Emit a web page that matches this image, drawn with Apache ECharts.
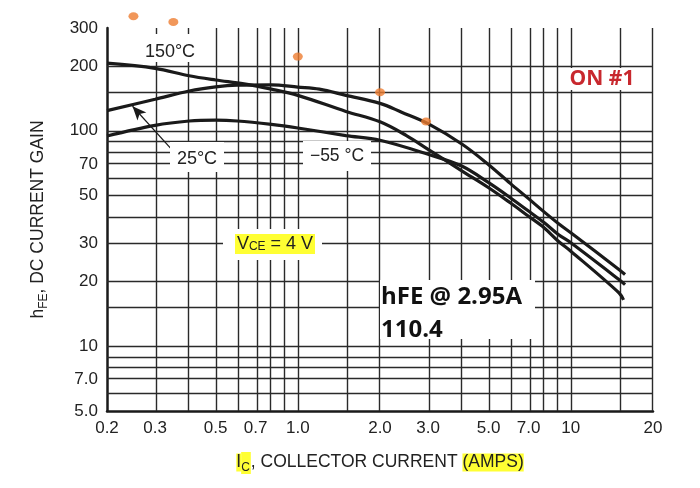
<!DOCTYPE html>
<html>
<head>
<meta charset="utf-8">
<script src="https://cdn.jsdelivr.net/npm/echarts@6/dist/echarts.min.js"></script>
<style>
  html, body { margin: 0; padding: 0; background: #fff; }
  #chart { width: 700px; height: 488px; }
</style>
</head>
<body>
<div id="chart"></div>
<script>
// axis ticks and grid (collector current in A, gain hFE)
const xTickVals = [0.2, 0.3, 0.5, 0.7, 1, 2, 3, 5, 7, 10, 20];
const xTickText = ['0.2', '0.3', '0.5', '0.7', '1.0', '2.0', '3.0', '5.0', '7.0', '10', '20'];
const yTickVals = [5, 7, 10, 20, 30, 50, 70, 100, 200, 300];
const yTickText = ['5.0', '7.0', '10', '20', '30', '50', '70', '100', '200', '300'];
const xGridVals = [0.3, 0.4, 0.5, 0.6, 0.7, 0.8, 0.9, 1, 1.5, 2, 3, 4, 5, 6, 7, 8, 9, 10, 15, 20];
const yGridVals = [6, 7, 8, 9, 10, 15, 20, 30, 40, 50, 60, 70, 80, 90, 100, 150, 200, 300];

// curves
const ic150 = [0.2, 0.3, 0.4, 0.5, 0.635, 0.8, 1.0, 1.5, 2.0, 2.5, 3.0, 4.0, 5.0, 6.0, 7.0, 8.0, 9.0, 10, 15, 15.6];
const hfe150 = [206, 195, 180, 172, 165, 156, 146, 123, 110, 95, 82, 65, 54.4, 46.3, 40.1, 35.4, 30.7, 27.6, 17.7, 16.4];
const ic25 = [0.2, 0.3, 0.4, 0.5, 0.6, 0.8, 1.0, 1.2, 1.5, 2.0, 2.4, 3.0, 4.0, 5.0, 6.0, 7.0, 8.0, 9.0, 10, 15, 15.8];
const hfe25 = [124, 140, 153, 160, 163, 163.5, 159.5, 156, 146, 134, 122, 108, 86.6, 69.6, 57, 48.4, 41.9, 37.1, 33.6, 22.7, 21.5];
const icM55 = [0.2, 0.3, 0.4, 0.5, 0.6, 0.8, 1.0, 1.5, 2.0, 3.0, 4.0, 5.0, 6.0, 7.0, 8.0, 9.0, 10, 15, 15.8];
const hfeM55 = [94.6, 106, 111, 112, 111, 107, 103, 95, 90.4, 77.8, 68.4, 57.4, 48.9, 42.4, 37.4, 33, 30.2, 20.4, 19.3];

// orange measured points
const dotIc = [0.25, 0.35, 1.0, 2.0, 2.95];
const dotHfe = [340, 320, 221, 151, 110.4];

// arrow from the 25°C label to its curve
const arrowFrom = [0.345, 82];
const arrowTo = [0.248, 130];

const SANS = "'Liberation Sans', Arial, sans-serif";
const BOLD = "'Open Sans', sans-serif";
const INK = '#1a1a1a';
const lg = Math.log10;

const pts = (xs, ys) => xs.map((x, i) => [lg(x), lg(ys[i])]);
const pickText = (vals, texts) => v => {
  const i = vals.findIndex(t => Math.abs(lg(t) - v) < 1e-6);
  return i >= 0 ? texts[i] : '';
};

const gridLines = xGridVals.map(v => ({ xAxis: lg(v) }))
  .concat(yGridVals.map(v => ({ yAxis: lg(v) })));

function curve(name, xs, ys, extra) {
  return Object.assign({
    name: name,
    type: 'line',
    data: pts(xs, ys),
    symbol: 'none',
    smooth: 0.35,
    lineStyle: { color: INK, width: 3.2 },
    z: 10,
    silent: true
  }, extra || {});
}

function box(x, y, w, h, fill) {
  return { type: 'rect', z: 50, shape: { x: x, y: y, width: w, height: h }, style: { fill: fill || '#fff' } };
}
function label(text, x, y, style) {
  return {
    type: 'text', x: x, y: y, z: 60,
    style: Object.assign({
      text: text, align: 'center', verticalAlign: 'middle',
      fontFamily: SANS, fontSize: 18, fill: '#222'
    }, style || {})
  };
}

const chart = echarts.init(document.getElementById('chart'));
chart.setOption({
  animation: false,
  backgroundColor: '#fff',
  grid: { left: 107, right: 47, top: 28, bottom: 77, outerBoundsMode: 'none' },
  xAxis: {
    type: 'value',
    min: lg(0.2),
    max: lg(20),
    splitLine: { show: false },
    axisTick: { show: false },
    axisLine: { show: true, onZero: false, lineStyle: { color: INK, width: 2.5 } },
    axisLabel: {
      customValues: xTickVals.map(lg),
      formatter: pickText(xTickVals, xTickText),
      fontFamily: SANS, fontSize: 17, color: '#222', margin: 9
    },
    name: '{i|I}{is|C}, COLLECTOR CURRENT {a|(AMPS)}',
    nameLocation: 'middle',
    nameGap: 40,
    nameTextStyle: {
      fontFamily: SANS, fontSize: 17.5, color: '#222', lineHeight: 23,
      rich: {
        i: { fontFamily: SANS, fontSize: 17.5, color: '#222', lineHeight: 23, backgroundColor: '#ffff33' },
        is: { fontFamily: SANS, fontSize: 12, color: '#222', lineHeight: 13, padding: [10, 1, 0, 0],
              verticalAlign: 'bottom', backgroundColor: '#ffff33' },
        a: { fontFamily: SANS, fontSize: 17.5, color: '#222', lineHeight: 23, backgroundColor: '#ffff33' }
      }
    }
  },
  yAxis: {
    type: 'value',
    min: lg(5),
    max: lg(300),
    splitLine: { show: false },
    axisTick: { show: false },
    axisLine: { show: true, onZero: false, lineStyle: { color: INK, width: 2.5 } },
    axisLabel: {
      customValues: yTickVals.map(lg),
      formatter: pickText(yTickVals, yTickText),
      fontFamily: SANS, fontSize: 17, color: '#222', margin: 9
    },
    name: 'h{s|FE}, DC CURRENT GAIN',
    nameLocation: 'middle',
    nameGap: 57,
    nameRotate: 90,
    nameTextStyle: {
      fontFamily: SANS, fontSize: 17.5, color: '#222', lineHeight: 23,
      rich: {
        s: { fontFamily: SANS, fontSize: 12, color: '#222', lineHeight: 13, padding: [10, 0, 0, 0],
             verticalAlign: 'bottom' }
      }
    }
  },
  series: [
    {
      name: 'grid',
      type: 'line',
      data: [],
      silent: true,
      markLine: {
        silent: true,
        symbol: ['none', 'none'],
        label: { show: false },
        lineStyle: { color: '#2a2a2a', width: 1.4, type: 'solid' },
        emphasis: { disabled: true },
        data: gridLines
      }
    },
    curve('150°C', ic150, hfe150),
    curve('25°C', ic25, hfe25, {
      markLine: {
        silent: true,
        symbol: ['none', 'arrow'],
        symbolSize: [9, 14],
        label: { show: false },
        lineStyle: { color: INK, width: 1.2, type: 'solid' },
        emphasis: { disabled: true },
        data: [[{ coord: [lg(arrowFrom[0]), lg(arrowFrom[1])] }, { coord: [lg(arrowTo[0]), lg(arrowTo[1])] }]]
      }
    }),
    curve('-55°C', icM55, hfeM55),
    {
      name: 'measured',
      type: 'scatter',
      data: pts(dotIc, dotHfe),
      symbol: 'circle',
      symbolSize: [10, 8],
      clip: false,
      z: 20,
      silent: true,
      itemStyle: { color: '#ed7d31' }
    }
  ],
  graphic: [
    box(136, 34, 68, 28),
    label('150°C', 170, 52),
    box(170, 142, 54, 30),
    label('25°C', 197, 159),
    box(303, 141, 68, 30),
    label('\u221255 °C', 337, 156, { fontSize: 17.5 }),
    box(223, 229, 99, 31),
    box(235, 234, 80, 20, '#ffff33'),
    label('V{s|CE} = 4 V', 275, 244, {
      rich: { s: { fontFamily: SANS, fontSize: 12, fill: '#222', lineHeight: 13, padding: [9, 0, 0, 0], verticalAlign: 'bottom' } }
    }),
    box(380, 280, 155, 59),
    label('hFE @ 2.95A', 381, 297, { align: 'left', fontFamily: BOLD, fontWeight: 'bold', fontSize: 24, fill: '#111' }),
    label('110.4', 381, 330, { align: 'left', fontFamily: BOLD, fontWeight: 'bold', fontSize: 24, fill: '#111' }),
    box(566, 68, 72, 22),
    label('ON #1', 602, 79, { fontFamily: BOLD, fontWeight: 'bold', fontSize: 21, fill: '#c8282e' })
  ]
});
</script>
</body>
</html>
